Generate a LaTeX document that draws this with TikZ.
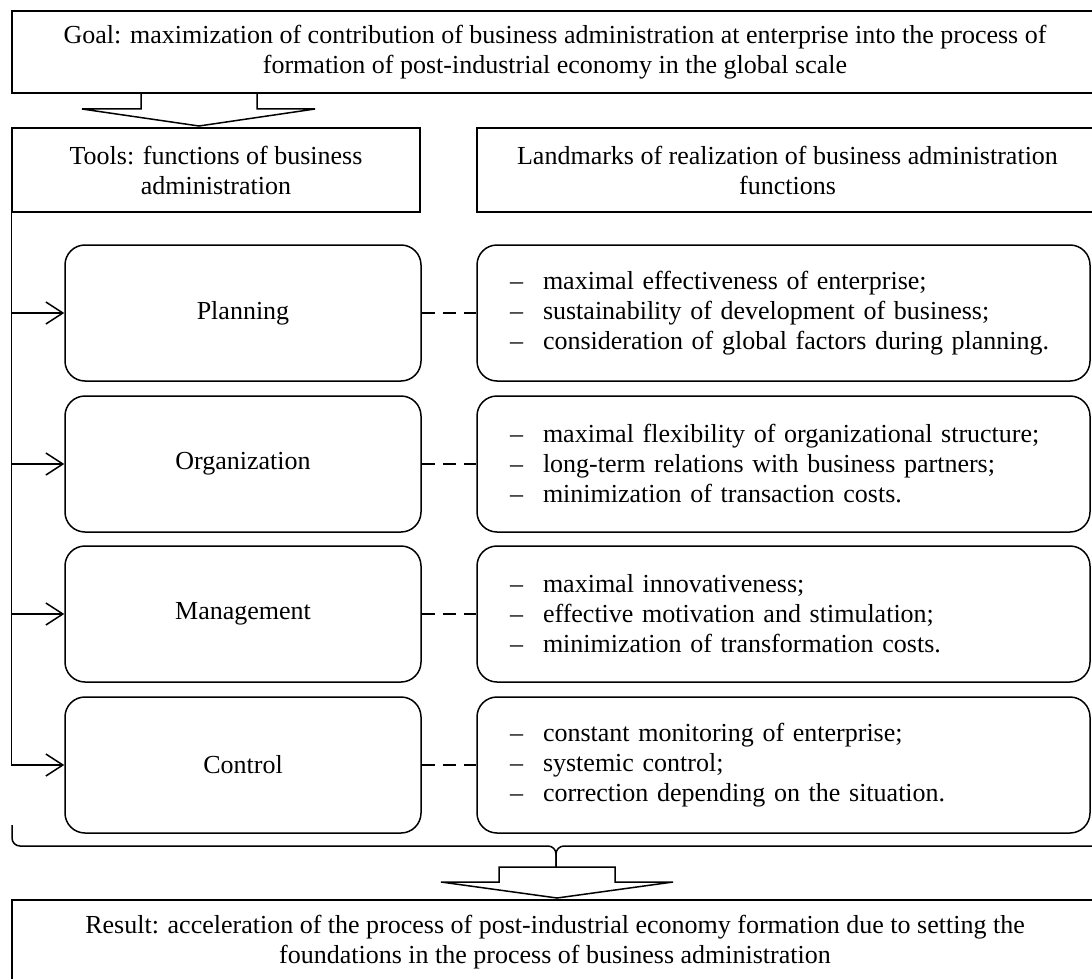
\documentclass[tikz,border=0pt]{standalone}
\usepackage{fontspec}
\setmainfont{Liberation Serif}
\usetikzlibrary{arrows.meta}
\newcommand{\dashitem}[1]{\makebox[33pt][l]{--}#1}

\begin{document}
\begin{tikzpicture}[x=1pt,y=-1pt,line width=1.5pt,
    font=\fontsize{26}{30}\selectfont,
    box/.style={draw, rectangle, align=center, inner sep=0pt},
    func/.style={draw, rounded corners=20pt, minimum width=356pt, minimum height=136pt, inner sep=0pt},
    landbox/.style={draw, rounded corners=20pt, text width=547pt, inner xsep=33pt, inner ysep=0pt, minimum height=136pt, align=left},
    feed/.style={-{Straight Barb[length=17pt,width=22pt]}},
    link/.style={dash pattern=on 13pt off 8pt}]
    \useasboundingbox (0,0) rectangle (1092,979);

    \node[box, minimum width=1086pt, minimum height=82pt] at (555,52) (goal) {Goal: maximization of contribution of business administration at enterprise into the process of\\formation of post-industrial economy in the global scale};

    \draw (141,93) -- (141,109) -- (82,109) -- (199,126) -- (315,109) -- (257,109) -- (257,93);

    \node[box, minimum width=408pt, minimum height=84pt] at (216,170) (tools) {Tools: functions of business\\administration};
    \node[box, minimum width=621pt, minimum height=84pt] at (787.5,170) (marks) {Landmarks of realization of business administration\\functions};

    % functions
    \node[func] at (243,313) (plan) {Planning};
    \node[func] at (243,464) (orgn) {Organization};
    \node[func] at (243,614) (mgmt) {Management};
    \node[func] at (243,765) (ctrl) {Control};

    % landmarks
    \node[landbox] at (783.5,313) (planl) {\dashitem{maximal effectiveness of enterprise;}\\\dashitem{sustainability of development of business;}\\\dashitem{consideration of global factors during planning.}};
    \node[landbox] at (783.5,464) (orgl) {\dashitem{maximal flexibility of organizational structure;}\\\dashitem{long-term relations with business partners;}\\\dashitem{minimization of transaction costs.}};
    \node[landbox] at (783.5,614) (mgmtl) {\dashitem{maximal innovativeness;}\\\dashitem{effective motivation and stimulation;}\\\dashitem{minimization of transformation costs.}};
    \node[landbox] at (783.5,765) (ctrll) {\dashitem{constant monitoring of enterprise;}\\\dashitem{systemic control;}\\\dashitem{correction depending on the situation.}};

    \draw[feed] (tools.south west) |- (ctrl.west);
    \draw[feed] (tools.south west |- plan.west) -- (plan.west);
    \draw[feed] (tools.south west |- orgn.west) -- (orgn.west);
    \draw[feed] (tools.south west |- mgmt.west) -- (mgmt.west);

    \draw[link] (plan.east) -- (planl.west);
    \draw[link] (orgn.east) -- (orgl.west);
    \draw[link] (mgmt.east) -- (mgmtl.west);
    \draw[link] (ctrl.east) -- (ctrll.west);

    % brace
    \draw[rounded corners=8pt] (12,825) -- (12,846) -- (556,846) -- (556,867);
    \draw[rounded corners=8pt] (1100,846) -- (556,846) -- (556,867);

    \draw (499,867) -- (615,867) -- (615,882) -- (673,882) -- (557,898) -- (441,882) -- (499,882) -- cycle;

    \node[box, minimum width=1086pt, minimum height=84pt] at (555,942) (result) {Result: acceleration of the process of post-industrial economy formation due to setting the\\foundations in the process of business administration};
\end{tikzpicture}
\end{document}
